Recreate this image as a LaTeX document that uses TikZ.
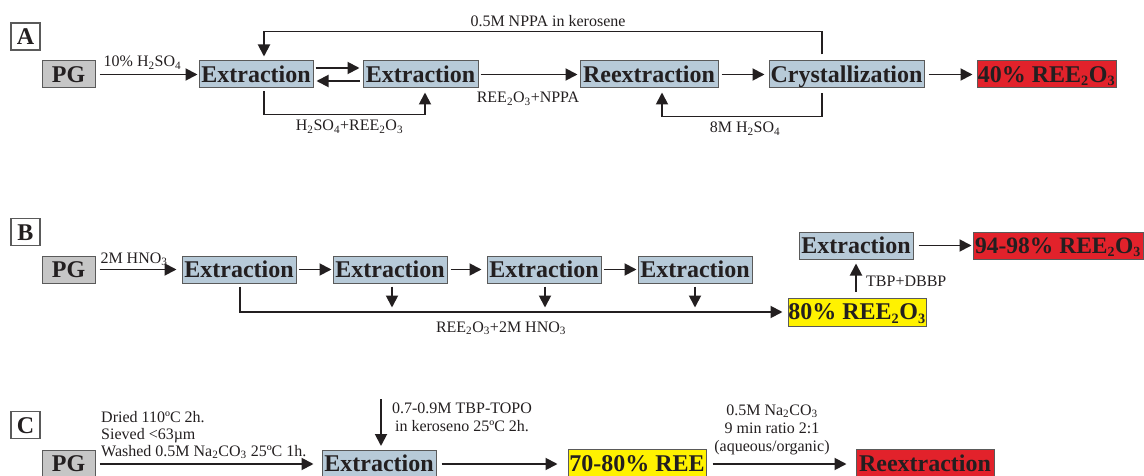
\documentclass[tikz,border=0pt]{standalone}
\usepackage{fontspec}
\setmainfont{Liberation Serif}
\usetikzlibrary{arrows.meta,calc}
\definecolor{boxblue}{HTML}{B7CAD8}
\definecolor{boxgray}{HTML}{C6C6C6}
\definecolor{boxred}{HTML}{E2222B}
\definecolor{boxyellow}{HTML}{FFF200}
\definecolor{edgegray}{HTML}{5A5A5A}
\definecolor{ink}{HTML}{231F20}
\newcommand{\bsub}[1]{\textsubscript{\scalebox{0.85}{#1}}}
\begin{document}
\begin{tikzpicture}[x=1pt,y=-1pt,
  stagebox/.style={draw=edgegray, line width=1pt, inner sep=0pt, minimum height=27pt,
    text=ink, text height=15.5pt, text depth=0pt, font=\fontsize{24}{26}\selectfont\bfseries},
  bluebox/.style={stagebox, fill=boxblue},
  graybox/.style={stagebox, fill=boxgray, minimum width=53pt},
  redbox/.style={stagebox, fill=boxred},
  yellowbox/.style={stagebox, fill=boxyellow},
  panel/.style={draw=edgegray, line width=1.2pt, fill=white, minimum width=29pt,
    minimum height=27pt, inner sep=0pt, text height=17pt, text depth=0pt, text=ink,
    font=\fontsize{24}{26}\selectfont\bfseries},
  lbl/.style={font=\fontsize{16}{18}\selectfont, text=ink, inner sep=0pt},
  arr/.style={draw=ink, line width=1.9pt, -{Triangle[length=12pt,width=12pt]}},
  conn/.style={draw=ink, line width=1.9pt}
]
\useasboundingbox (0,0) rectangle (1144,476);

% ---------------- Panel A ----------------
\node[panel] (pA) at (25.5,36.5) {A};
\node[graybox] (pgA) at (68.5,74.5) {PG};
\node[bluebox, minimum width=114pt] (exA1) at (256,74.5) {Extraction};
\node[bluebox, minimum width=115pt] (exA2) at (420.5,74.5) {Extraction};
\node[bluebox, minimum width=138pt] (reA) at (649,74.5) {Reextraction};
\node[bluebox, minimum width=155pt] (crA) at (846.5,74.5) {Crystallization};
\node[redbox, minimum width=139pt] (outA) at (1046.5,74.5) {40\% REE\bsub{2}O\bsub{3}};

\draw[arr, shorten <=4pt, shorten >=1pt] (pgA) -- (exA1);
\draw[arr] ($(exA1.east)+(2,-6.5)$) -- ($(exA2.west)+(-3,-6.5)$);
\draw[arr] ($(exA2.west)+(-3,6.5)$) -- ($(exA1.east)+(3,6.5)$);
\draw[arr, shorten <=2pt, shorten >=2pt] (exA2) -- (reA);
\draw[arr, shorten <=3pt, shorten >=4pt] (reA) -- (crA);
\draw[arr, shorten <=4pt, shorten >=4pt] (crA) -- (outA);
\draw[arr] ($(crA.north)+(-24.5,-6)$) -- ($(crA.north)+(-24.5,-29)$) -| ($(exA1.north)+(8,-4)$);
\draw[arr] ($(exA1.south)+(8,3)$) -- ($(exA1.south)+(8,26)$) -| ($(exA2.south)+(4.5,4)$);
\draw[arr] ($(crA.south)+(-24.5,5)$) -- ($(crA.south)+(-24.5,28)$) -| ($(reA.south)+(13,4)$);

\node[lbl, anchor=base] (tA1) at (142.5,67) {10\% H\textsubscript{2}SO\textsubscript{4}};
\node[lbl, anchor=base] (tA2) at (548,27) {0.5M NPPA in kerosene};
\node[lbl, anchor=base] (tA3) at (528,103) {REE\textsubscript{2}O\textsubscript{3}+NPPA};
\node[lbl, anchor=base] (tA4) at (349.5,130.5) {H\textsubscript{2}SO\textsubscript{4}+REE\textsubscript{2}O\textsubscript{3}};
\node[lbl, anchor=base] (tA5) at (745,133) {8M H\textsubscript{2}SO\textsubscript{4}};

% ---------------- Panel B ----------------
\node[panel] (pB) at (25.5,232) {B};
\node[graybox] (pgB) at (68.5,269.5) {PG};
\node[bluebox, minimum width=114pt] (exB1) at (239,269.5) {Extraction};
\node[bluebox, minimum width=114pt] (exB2) at (390,269.5) {Extraction};
\node[bluebox, minimum width=114pt] (exB3) at (544,269.5) {Extraction};
\node[bluebox, minimum width=114pt] (exB4) at (695,269.5) {Extraction};
\node[yellowbox, minimum width=138pt, minimum height=28pt] (yelB) at (857,312) {80\% REE\bsub{2}O\bsub{3}};
\node[bluebox, minimum width=114pt] (exB5) at (856,245.5) {Extraction};
\node[redbox, minimum width=170pt, font=\fontsize{23.5}{26}\selectfont\bfseries] (outB) at (1058,245.5) {94-98\% REE\bsub{2}O\bsub{3}};

\draw[arr, shorten <=4pt, shorten >=5pt] (pgB) -- (exB1);
\draw[arr, shorten <=2pt, shorten >=1pt] (exB1) -- (exB2);
\draw[arr, shorten <=3pt, shorten >=5pt] (exB2) -- (exB3);
\draw[arr, shorten <=2pt, shorten >=1pt] (exB3) -- (exB4);
\draw[arr] ($(exB2.south)+(2,3)$) -- ($(exB2.south)+(2,24)$);
\draw[arr] ($(exB3.south)+(1,3)$) -- ($(exB3.south)+(1,24)$);
\draw[arr] ($(exB4.south)+(0,3)$) -- ($(exB4.south)+(0,24)$);
\draw[arr] ($(exB1.south)+(1,3)$) |- ($(yelB.west)+(-5,0)$);
\draw[arr] ($(yelB.north)+(-1,-6)$) -- ($(exB5.south)+(0,4)$);
\draw[arr, shorten <=5pt, shorten >=1pt] (exB5) -- (outB);

\node[lbl, anchor=base] (tB1) at (134,263) {2M HNO\textsubscript{3}};
\node[lbl, anchor=base] (tB2) at (501,332) {REE\textsubscript{2}O\textsubscript{3}+2M HNO\textsubscript{3}};
\node[lbl, anchor=base west] (tB3) at (866,286) {TBP+DBBP};

% ---------------- Panel C ----------------
\node[panel] (pC) at (25.5,425) {C};
\node[graybox] (pgC) at (68.5,464) {PG};
\node[bluebox, minimum width=114pt] (exC) at (379,464) {Extraction};
\node[yellowbox, minimum width=138pt, minimum height=29pt] (yelC) at (637,464) {70-80\% REE};
\node[redbox, minimum width=138pt, minimum height=29pt] (redC) at (925,464) {Reextraction};

\draw[arr, shorten <=4pt, shorten >=8pt] (pgC) -- (exC);
\draw[arr, shorten <=5pt, shorten >=10pt] (exC) -- (yelC);
\draw[arr, shorten <=6pt, shorten >=9pt] (yelC) -- (redC);
\coordinate (srcC) at (381,399);
\draw[arr, shorten >=4pt] (srcC) -- (srcC |- exC.north);

\node[lbl, anchor=base west] (tC1) at (101,422) {Dried 110ºC 2h.};
\node[lbl, anchor=base west] (tC2) at (101,439) {Sieved <63µm};
\node[lbl, anchor=base west] (tC3) at (101,456) {Washed 0.5M Na\textsubscript{2}CO\textsubscript{3} 25ºC 1h.};
\node[lbl, anchor=base] (tC4) at (462,413) {0.7-0.9M TBP-TOPO};
\node[lbl, anchor=base] (tC5) at (462,431) {in keroseno 25ºC 2h.};
\node[lbl, anchor=base] (tC6) at (772,415) {0.5M Na\textsubscript{2}CO\textsubscript{3}};
\node[lbl, anchor=base] (tC7) at (772,433) {9 min ratio 2:1};
\node[lbl, anchor=base] (tC8) at (772,451) {(aqueous/organic)};
\end{tikzpicture}
\end{document}
